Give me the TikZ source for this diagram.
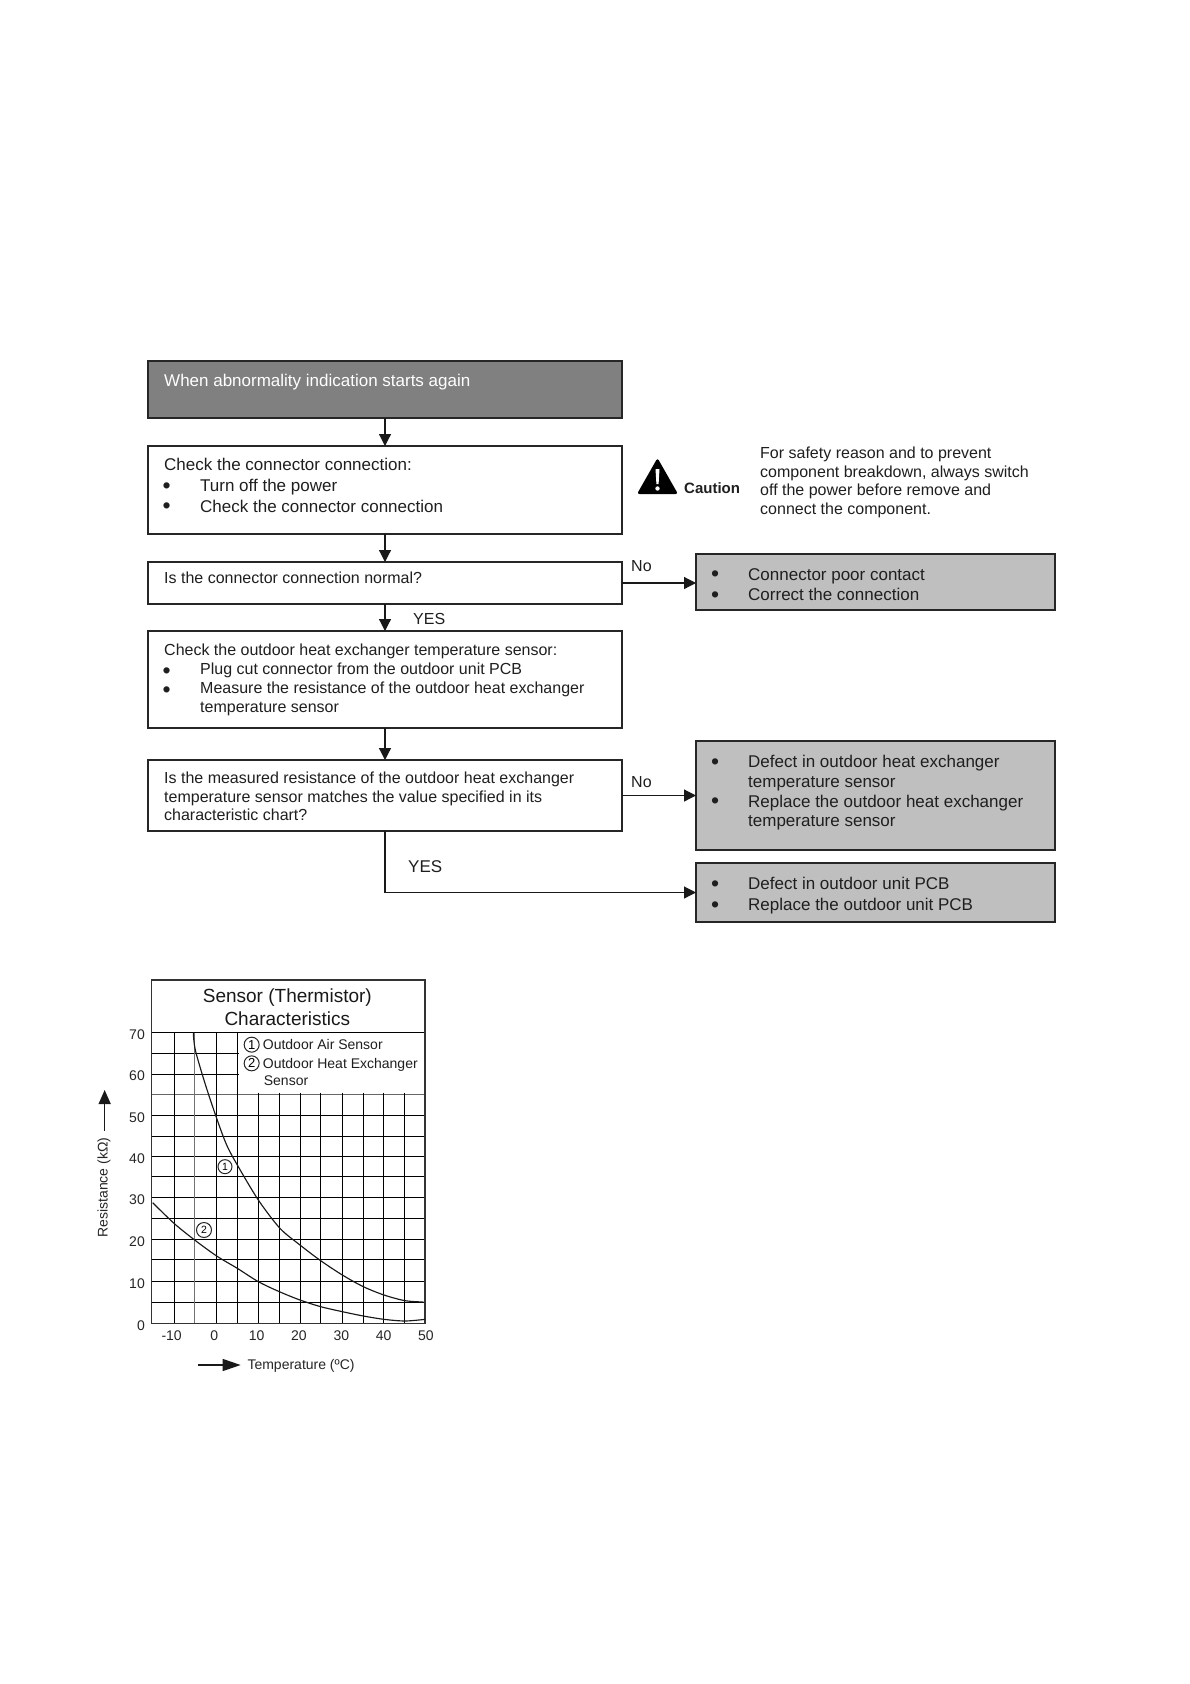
\documentclass[tikz,border=0pt]{standalone}
\usepackage{fontspec}
\setmainfont{Liberation Sans}
\usetikzlibrary{arrows.meta}
\newcommand{\fs}[2]{\fontsize{#1}{#2}\selectfont}
\newcommand{\bigdot}{\smash{\fs{23}{20}\raisebox{-1.6pt}{•}}}
\newcommand{\blA}{\makebox[36pt][l]{\hspace*{-1.5pt}\bigdot}}
\newcommand{\blB}{\makebox[38pt][l]{\hspace*{1pt}\bigdot}}
\newcommand{\blC}{\makebox[36pt][l]{\hspace*{-1.5pt}\raisebox{-1.8pt}{\bigdot}}}
\begin{document}
\begin{tikzpicture}[x=1pt,y=-1pt,
  flowbox/.style={draw=black!85,line width=1.2pt,anchor=north west,inner sep=0pt,outer sep=0pt},
  whitebox/.style={flowbox,fill=white},
  greybox/.style={flowbox,fill=black!25},
  darkbox/.style={flowbox,fill=black!50},
  txt/.style={anchor=north west,inner sep=0pt,align=left,text=black!88,font=\fs{17}{20.9}},
  small/.style={txt,font=\fs{16}{19}},
  flow/.style={line width=1.2pt,draw=black!90,-{Triangle[length=12pt,width=12pt]}},
  gridline/.style={line width=1pt,draw=black},
  curveline/.style={line width=1.15pt,draw=black!90},
  tick/.style={inner sep=0pt,text=black!85,font=\fs{14}{16}},
  circ/.style={circle,draw=black!85,line width=1pt,inner sep=0pt,minimum size=15pt,font=\fs{10.5}{12}}]
\useasboundingbox (0,0) rectangle (1190,1684);
\fill[white] (0,0) rectangle (1190,1684);
% flow boxes
\node[darkbox,minimum width=474pt,minimum height=57pt] (b1) at (148,361) {};
\node[whitebox,minimum width=474pt,minimum height=88pt] (b2) at (148,446) {};
\node[whitebox,minimum width=474pt,minimum height=42pt] (b3) at (148,562) {};
\node[whitebox,minimum width=474pt,minimum height=97pt] (b4) at (148,631) {};
\node[whitebox,minimum width=474pt,minimum height=71pt] (b5) at (148,760) {};
\node[greybox,minimum width=359pt,minimum height=56pt] (g1) at (696,554) {};
\node[greybox,minimum width=359pt,minimum height=109pt] (g2) at (696,741) {};
\node[greybox,minimum width=359pt,minimum height=59pt] (g3) at (696,863) {};
% texts
\node[txt,text=white] (t1) at (164,374) {When abnormality indication starts again};
\node[txt] (t2) at (164,458) {Check the connector connection:\\\blA Turn off the power\\\blA Check the connector connection};
\node[txt,font=\fs{16}{20}] (t3) at (164,571.5) {Is the connector connection normal?};
\node[small] (t4) at (164,644) {Check the outdoor heat exchanger temperature sensor:\\\blC Plug cut connector from the outdoor unit PCB\\\blC Measure the resistance of the outdoor heat exchanger\\\hspace*{36pt}temperature sensor};
\node[small,font=\fs{16}{18.3}] (t5) at (164,772) {Is the measured resistance of the outdoor heat exchanger\\temperature sensor matches the value specified in its\\characteristic chart?};
\node[txt,font=\fs{17}{20.6}] (t6) at (710,568) {\blB Connector poor contact\\\blB Correct the connection};
\node[txt,font=\fs{17}{19.8}] (t7) at (710,755) {\blB Defect in outdoor heat exchanger\\\hspace*{38pt}temperature sensor\\\blB Replace the outdoor heat exchanger\\\hspace*{38pt}temperature sensor};
\node[txt] (t8) at (710,877) {\blB Defect in outdoor unit PCB\\\blB Replace the outdoor unit PCB};
\node[small,font=\fs{16}{18.4}] (t9) at (760,447) {For safety reason and to prevent\\component breakdown, always switch\\off the power before remove and\\connect the component.};
\node[txt,font=\bfseries\fs{15}{16}] (t10) at (684,482) {Caution};
% labels
\node[txt,font=\fs{16}{20}] (no1) at (631,560) {No};
\node[txt,font=\fs{16}{20}] (yes1) at (413,613) {YES};
\node[txt,font=\fs{16}{20}] (no2) at (631,776) {No};
\node[txt,font=\fs{17}{20}] (yes2) at (408,860) {YES};
% connectors
\draw[flow] (b1.south) -- (b2.north);
\draw[flow] (b2.south) -- (b3.north);
\draw[flow] (b3.south) -- (b4.north);
\draw[flow] (b4.south) -- (b5.north);
\draw[flow] (b3.east) -- (b3.east -| g1.west);
\draw[flow] (b5.east) -- (b5.east -| g2.west);
\draw[flow] (b5.south) |- (g3.west);
% caution sign
\fill[black,rounded corners=2.5pt] (657.5,458) -- (678,494) -- (637,494) -- cycle;
\fill[white] (655.5,469) -- (659.5,469) -- (658.6,484) -- (656.4,484) -- cycle;
\fill[white] (657.5,488.5) circle (2.2pt);
% chart (zoom coordinates)
\begin{scope}[shift={(80,960)},x=0.33333pt,y=-0.33333pt]
  \draw[line width=1.1pt,draw=black!80] (215,60) rectangle (1035,1090);
  \foreach \y in {218,467,529,589,648,712,775,837,899,964,1026}
    \draw[gridline] (215,\y) -- (1032,\y);
  \draw[gridline,draw=black!60] (215,404) -- (1032,404);
  \foreach \y in {280,342}
    \draw[gridline] (215,\y) -- (478,\y);
  \foreach \x in {282,410,472}
    \draw[gridline] (\x,218) -- (\x,1090);
  \draw[gridline,draw=black!55] (344,218) -- (344,1090);
  \foreach \x in {535,598,660,722,787,850,912,975}
    \draw[gridline] (\x,398) -- (\x,1090);
  \draw[curveline] plot[smooth] coordinates {(340,218) (346,270) (375,370) (410,475) (440,555) (472,615) (535,720) (600,805) (660,855) (722,902) (787,945) (850,980) (912,1005) (975,1022) (1030,1026)};
  \draw[curveline] plot[smooth] coordinates {(218,728) (282,790) (344,840) (410,888) (472,925) (535,965) (598,995) (660,1020) (722,1040) (787,1055) (850,1068) (912,1078) (975,1083) (1035,1078)};
  \node[inner sep=0pt,align=center,text=black!90,font=\fs{19}{22.5}] (title) at (622,141) {Sensor (Thermistor)\\Characteristics};
  \node[txt,font=\fs{14}{17}] (leg1) at (548,236) {Outdoor Air Sensor};
  \node[txt,font=\fs{14}{17.5}] (leg2) at (548,293) {Outdoor Heat Exchanger\\\hspace*{1pt}Sensor};
  \node[circ] (c1) at (515,254) {\fs{13}{14}1};
  \node[circ] (c2) at (515,310) {\fs{13}{14}2};
  \node[circ,fill=white,minimum size=14pt] (c3) at (435,620) {1};
  \node[circ,minimum size=15pt] (c4) at (372,810) {2};
  \foreach \v/\y in {70/224,60/348,50/472,40/597,30/720,20/846,10/971,0/1097}
    \node[tick,anchor=east] (yl\v) at (195,\y) {\v};
  \foreach \v/\x in {-10/275,0/403,10/530,20/657,30/784,40/911,50/1038}
    \node[tick] (xl\v) at (\x,1128) {\v};
  \node[tick,rotate=90] (rl) at (72,683) {Resistance (kΩ)};
  \node[tick,anchor=west] (tl) at (502,1218) {Temperature (ºC)};
  \coordinate (ra) at (74,512);
  \coordinate (rb) at (74,390);
  \coordinate (ta) at (355,1215);
  \coordinate (tb) at (482,1215);
  \draw[line width=1.3pt,draw=black!90,-{Triangle[length=14pt,width=12pt]}] (ra) -- (rb);
  \draw[line width=1.3pt,draw=black!90,-{Triangle[length=18pt,width=12pt]}] (ta) -- (tb);
\end{scope}
\end{tikzpicture}
\end{document}
